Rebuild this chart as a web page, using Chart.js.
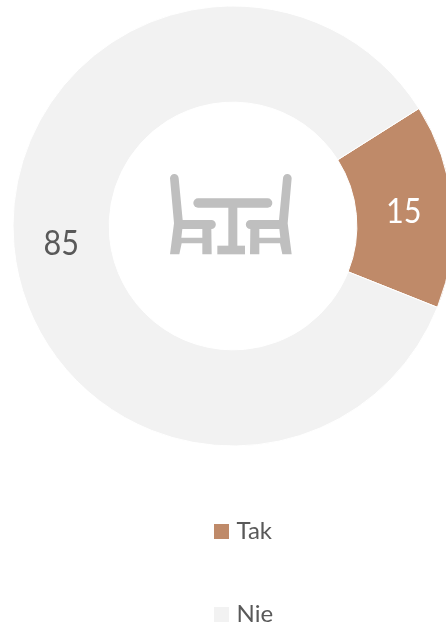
<!DOCTYPE html>
<html><head><meta charset="utf-8">
<style>html,body{margin:0;padding:0;background:#fff;overflow:hidden;width:446px;height:624px}canvas{display:block}</style>
<script src="https://cdn.jsdelivr.net/npm/chart.js@4"></script>
</head><body>
<canvas id="c" width="466" height="624" style="width:466px;height:624px"></canvas>
<script>
const categories = ['Tak', 'Nie'];
const seriesValues = [15, 85];
const sliceColors = ['#BF8A69', '#F2F2F2'];
const labelColors = ['#FFFFFF', '#595959'];
const FONT = 'Lato, Carlito, sans-serif';

const extras = {
  id: 'extras',
  afterDraw(chart) {
    const ctx = chart.ctx;
    // slice value labels
    chart.getDatasetMeta(0).data.forEach((arc, i) => {
      const p = arc.tooltipPosition();
      ctx.save();
      ctx.translate(p.x - 0.5, p.y + 2);
      ctx.scale(0.9, 1);
      ctx.font = '34px ' + FONT;
      ctx.fillStyle = labelColors[i];
      ctx.textAlign = 'center';
      ctx.textBaseline = 'middle';
      ctx.fillText(String(seriesValues[i]), 0, 0);
      ctx.restore();
    });
    // legend
    categories.forEach((name, i) => {
      const y = 531 + i * 83;
      ctx.fillStyle = sliceColors[i];
      ctx.fillRect(214, y - 7, 15, 15);
      ctx.font = '24px ' + FONT;
      ctx.fillStyle = '#595959';
      ctx.textAlign = 'left';
      ctx.textBaseline = 'middle';
      ctx.fillText(name, 236.5, y);
    });
    // centre icon: table with two chairs
    ctx.save();
    ctx.fillStyle = '#BFBFBF';
    ctx.translate(150, 160);
    ctx.scale(1 / 3, 1 / 3);
    const chair = () => {
      ctx.beginPath();
      ctx.moveTo(60, 55);
      ctx.arc(73, 55, 13, Math.PI, 0);
      ctx.lineTo(98, 180);
      ctx.lineTo(184, 180);
      ctx.arc(184, 193.5, 13.5, -Math.PI / 2, Math.PI / 2);
      ctx.lineTo(185, 283);
      ctx.lineTo(157, 283);
      ctx.lineTo(157, 250);
      ctx.lineTo(95, 250);
      ctx.lineTo(88, 283);
      ctx.lineTo(60, 283);
      ctx.lineTo(72, 190);
      ctx.closePath();
      ctx.moveTo(97, 207);
      ctx.lineTo(157, 207);
      ctx.lineTo(157, 233);
      ctx.lineTo(94, 233);
      ctx.closePath();
      ctx.fill('evenodd');
    };
    chair();
    ctx.save();
    ctx.translate(485, 0);
    ctx.scale(-1, 1);
    chair();
    ctx.restore();
    ctx.beginPath();
    ctx.roundRect(130, 115, 237, 28, 14);
    ctx.fill();
    ctx.fillRect(235, 140, 27, 120);
    ctx.fillRect(202, 257, 83, 26);
    ctx.restore();
  }
};

new Chart(document.getElementById('c'), {
  type: 'doughnut',
  data: {
    labels: categories,
    datasets: [{
      data: seriesValues,
      backgroundColor: sliceColors,
      borderColor: '#FFFFFF',
      borderWidth: 1
    }]
  },
  options: {
    responsive: false,
    animation: false,
    rotation: 57.7,
    cutout: '56.3%',
    layout: { padding: { top: 5.5, left: 12.5, right: 12.5, bottom: 177.5 } },
    plugins: { legend: { display: false }, tooltip: { enabled: false } }
  },
  plugins: [extras]
});
</script>
</body></html>
